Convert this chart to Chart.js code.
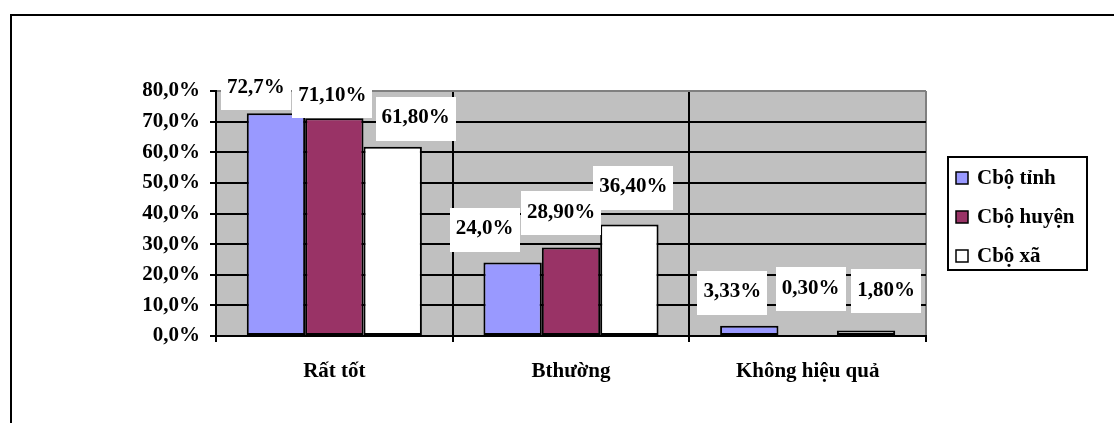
<!DOCTYPE html>
<html>
<head>
<meta charset="utf-8">
<script src="https://cdn.jsdelivr.net/npm/chart.js@4.4.1/dist/chart.umd.min.js"></script>
<style>
  html, body { margin: 0; padding: 0; background: #fff; }
  canvas { display: block; }
</style>
</head>
<body>
<canvas id="chart" width="1114" height="423"></canvas>
<script>
// chart data
const categories = ["Rất tốt", "Bthường", "Không hiệu quả"];
const seriesNames = ["Cbộ tỉnh", "Cbộ huyện", "Cbộ xã"];
const tinhValues = [72.7, 24.0, 3.33];
const huyenValues = [71.1, 28.9, 0.3];
const xaValues = [61.8, 36.4, 1.8];
const tinhLabels = ["72,7%", "24,0%", "3,33%"];
const huyenLabels = ["71,10%", "28,90%", "0,30%"];
const xaLabels = ["61,80%", "36,40%", "1,80%"];
const yTickLabels = ["0,0%", "10,0%", "20,0%", "30,0%", "40,0%", "50,0%", "60,0%", "70,0%", "80,0%"];

const FONT = "'Liberation Serif', 'Times New Roman', serif";
const FSIZE = 21;
const BLUE = "#9999ff";
const MAROON = "#993366";
const WHITE = "#ffffff";
const PLOT_BG = "#c0c0c0";
const PLOT_EDGE = "#808080";

// nudges for the label boxes (text centre relative to the bar top), as placed in the original
const labelNudges = [
  [[-20, -26], [-28, -34], [-17, -34]],
  [[-2, -23], [-10, -35], [3, -47]],
  [[23, -29], [4, -38], [20, -40]]
];

const frameAndBg = {
  id: "frameAndBg",
  beforeDraw(chart) {
    const { ctx, chartArea: a } = chart;
    ctx.save();
    ctx.fillStyle = "#fff";
    ctx.fillRect(0, 0, chart.width, chart.height);
    // outer frame
    ctx.strokeStyle = "#000";
    ctx.lineWidth = 2;
    ctx.strokeRect(11, 15, chart.width + 50, chart.height + 50);
    // plot area
    ctx.fillStyle = PLOT_BG;
    ctx.fillRect(a.left, a.top, a.right - a.left, a.bottom - a.top);
    ctx.restore();
  }
};

const valueBoxes = {
  id: "valueBoxes",
  afterDatasetsDraw(chart) {
    const { ctx } = chart;
    const items = [];
    ctx.save();
    ctx.font = "bold " + FSIZE + "px " + FONT;
    chart.data.datasets.forEach((ds, di) => {
      const meta = chart.getDatasetMeta(di);
      meta.data.forEach((bar, i) => {
        const [dx, dy] = labelNudges[di][i];
        const text = ds.valueLabels[i];
        const w = ctx.measureText(text).width;
        items.push({ text, x: bar.x + dx, y: bar.y + dy, w });
      });
    });
    ctx.fillStyle = "#fff";
    items.forEach(it => {
      ctx.fillRect(Math.round(it.x - it.w / 2 - 6), Math.round(it.y - 21), Math.round(it.w + 12), 44);
    });
    ctx.fillStyle = "#000";
    ctx.textAlign = "center";
    ctx.textBaseline = "middle";
    items.forEach(it => ctx.fillText(it.text, it.x, it.y));
    ctx.restore();
  }
};

const boxLegend = {
  id: "boxLegend",
  afterDraw(chart) {
    const { ctx, chartArea: a } = chart;
    const left = a.right + 22;
    const top = 157;
    ctx.save();
    ctx.strokeStyle = "#000";
    ctx.lineWidth = 2;
    ctx.strokeRect(left, top, 139, 113);
    ctx.font = "bold " + FSIZE + "px " + FONT;
    ctx.textBaseline = "middle";
    chart.data.datasets.forEach((ds, i) => {
      const cy = top + 21 + i * 39;
      ctx.fillStyle = ds.backgroundColor;
      ctx.fillRect(left + 8, cy - 6, 12, 12);
      ctx.lineWidth = 1.5;
      ctx.strokeRect(left + 8, cy - 6, 12, 12);
      ctx.fillStyle = "#000";
      ctx.fillText(ds.label, left + 29, cy + 1);
    });
    ctx.restore();
  }
};

const makeSet = (label, values, labels, color) => ({
  label,
  data: values,
  valueLabels: labels,
  backgroundColor: color,
  borderColor: "#000",
  borderWidth: 2,
  borderSkipped: false,
  barPercentage: 1.0,
  categoryPercentage: 0.74
});

new Chart(document.getElementById("chart").getContext("2d"), {
  type: "bar",
  data: {
    labels: categories,
    datasets: [
      makeSet(seriesNames[0], tinhValues, tinhLabels, BLUE),
      makeSet(seriesNames[1], huyenValues, huyenLabels, MAROON),
      makeSet(seriesNames[2], xaValues, xaLabels, WHITE)
    ]
  },
  options: {
    responsive: false,
    animation: false,
    layout: { padding: { left: 0, top: 91, right: 188, bottom: 0 } },
    plugins: {
      legend: { display: false },
      tooltip: { enabled: false }
    },
    scales: {
      x: {
        afterFit: (s) => { s.height = 87; },
        grid: {
          offset: true,
          lineWidth: 2,
          tickLength: 6,
          color: (c) => (c.type === "tick" ? "#000" : PLOT_EDGE),
          tickColor: "#000"
        },
        border: { display: true, color: "#000", width: 2 },
        ticks: {
          color: "#000",
          padding: 17,
          font: { family: FONT, size: FSIZE, weight: "bold" }
        }
      },
      y: {
        min: 0,
        max: 80,
        afterFit: (s) => { s.width = 216; },
        grid: {
          lineWidth: 2,
          tickLength: 6,
          color: (c) => (c.tick && c.tick.value === 80 ? PLOT_EDGE : "#000"),
          tickColor: "#000"
        },
        border: { display: true, color: "#000", width: 2 },
        ticks: {
          stepSize: 10,
          color: "#000",
          padding: 10,
          font: { family: FONT, size: FSIZE, weight: "bold" },
          callback: (v, i) => yTickLabels[i]
        }
      }
    }
  },
  plugins: [frameAndBg, valueBoxes, boxLegend]
});
</script>
</body>
</html>
